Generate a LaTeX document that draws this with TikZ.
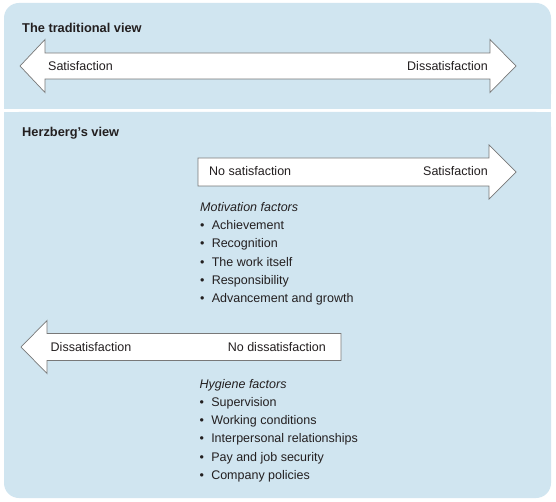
\documentclass[tikz,border=0pt]{standalone}
\usepackage{fontspec}
\setmainfont{Liberation Sans}
\usepackage{xcolor}
\usetikzlibrary{positioning}

\definecolor{PanelBlue}{RGB}{208,229,240}
\definecolor{ArrowGray}{RGB}{120,120,120}
\definecolor{InkBlack}{RGB}{35,31,32}

\begin{document}
\begin{tikzpicture}[
  x=1pt, y=-1pt,
  panel/.style={fill=PanelBlue},
  viewarrow/.style={draw=ArrowGray, fill=white, line width=0.7pt, line join=miter},
  heading/.style={inner sep=0, anchor=base west, text=InkBlack,
                  font=\fontsize{12.8}{15}\selectfont\bfseries},
  arrowtext/.style={inner sep=0, text=InkBlack,
                    font=\fontsize{12.5}{15}\selectfont},
  factor/.style={inner sep=0, anchor=base west, text height=9pt, text depth=2.5pt,
                 text=InkBlack, font=\fontsize{12.5}{15}\selectfont\itshape},
  item/.style={inner sep=0, text height=9pt, text depth=2.5pt,
               text=InkBlack, font=\fontsize{12.5}{15}\selectfont},
]
  \useasboundingbox (0,0) rectangle (556,502);
  \fill[white] (0,0) rectangle (556,502);

  % Panels
  \fill[panel, rounded corners=15pt] (4,3) rectangle (551,109);
  \fill[panel] (4,80) rectangle (551,109);
  \fill[panel, rounded corners=15pt] (4,112) rectangle (551,498);
  \fill[panel] (4,112) rectangle (551,140);

  % Traditional view
  \node[heading] (tradtitle) at (22,32.3) {The traditional view};
  \draw[viewarrow] (20,66) -- (45,39.5) -- (45,53) -- (490,53) -- (490,39.5)
    -- (516,66) -- (490,92.5) -- (490,79) -- (45,79) -- (45,92.5) -- cycle;
  \node[arrowtext, anchor=base west] (tradsat) at (48,71) {Satisfaction};
  \node[arrowtext, anchor=base east] (traddis) at (488,71) {Dissatisfaction};

  % Herzberg's view
  \node[heading] (herztitle) at (22,137) {Herzberg's view};

  % Motivation arrow
  \draw[viewarrow] (198,158) -- (489,158) -- (489,145) -- (516,172)
    -- (489,199) -- (489,186) -- (198,186) -- cycle;
  \node[arrowtext, anchor=base west] (nosat) at (209,176) {No satisfaction};
  \node[arrowtext, anchor=base east] (sat) at (488,176) {Satisfaction};

  % Motivation factors
  \node[factor] (motiv) at (200,211.5) {Motivation factors};
  \node[item, below=6.3pt of motiv.south west, anchor=north west] (m1) {\textbullet\hspace{7.2pt}Achievement};
  \node[item, below=6.3pt of m1.south west, anchor=north west] (m2) {\textbullet\hspace{7.2pt}Recognition};
  \node[item, below=6.3pt of m2.south west, anchor=north west] (m3) {\textbullet\hspace{7.2pt}The work itself};
  \node[item, below=6.3pt of m3.south west, anchor=north west] (m4) {\textbullet\hspace{7.2pt}Responsibility};
  \node[item, below=6.3pt of m4.south west, anchor=north west] (m5) {\textbullet\hspace{7.2pt}Advancement and growth};

  % Hygiene arrow
  \draw[viewarrow] (341,333.5) -- (47,333.5) -- (47,320.5) -- (21,347)
    -- (47,373.5) -- (47,360.5) -- (341,360.5) -- cycle;
  \node[arrowtext, anchor=base west] (dissat) at (50.5,351.5) {Dissatisfaction};
  \node[arrowtext, anchor=base east] (nodissat) at (326,351.5) {No dissatisfaction};

  % Hygiene factors
  \node[factor] (hyg) at (199.5,388.3) {Hygiene factors};
  \node[item, below=6.3pt of hyg.south west, anchor=north west] (h1) {\textbullet\hspace{7.2pt}Supervision};
  \node[item, below=6.3pt of h1.south west, anchor=north west] (h2) {\textbullet\hspace{7.2pt}Working conditions};
  \node[item, below=6.3pt of h2.south west, anchor=north west] (h3) {\textbullet\hspace{7.2pt}Interpersonal relationships};
  \node[item, below=6.3pt of h3.south west, anchor=north west] (h4) {\textbullet\hspace{7.2pt}Pay and job security};
  \node[item, below=6.3pt of h4.south west, anchor=north west] (h5) {\textbullet\hspace{7.2pt}Company policies};
\end{tikzpicture}
\end{document}
